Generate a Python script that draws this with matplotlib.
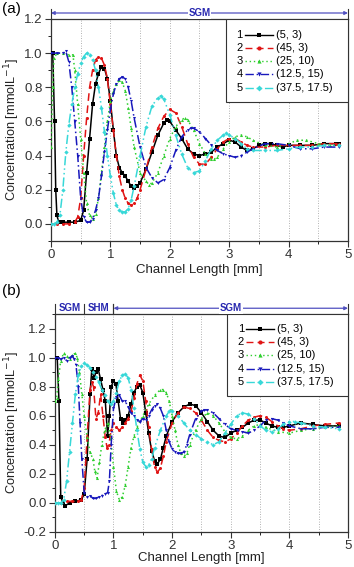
import matplotlib
matplotlib.use('Agg')
import matplotlib.pyplot as plt
from matplotlib.ticker import MultipleLocator, FormatStrFormatter
from matplotlib.lines import Line2D
from matplotlib.patches import Rectangle

plt.rcParams['font.family'] = ['Liberation Sans', 'DejaVu Sans']

# legend text and series styling
numbers = ['1', '2', '3', '4', '5']
labels = ['(5, 3)', '(45, 3)', '(25, 10)', '(12.5, 15)', '(37.5, 17.5)']
colors = ['#000000', '#e01515', '#2fcf2f', '#1818bc', '#38d8d8']
markers = ['s', 'o', '^', 'v', 'D']
styles = ['-', (0, (5, 3)), (0, (1, 2)), (0, (6, 2, 1, 2)), (0, (6, 2, 1, 2, 1, 2))]

# ---- panel (a): SGM only ----
a1_x = [0, 0.03, 0.06, 0.08, 0.1, 0.13, 0.2, 0.3, 0.4, 0.5, 0.55, 0.6, 0.65, 0.7, 0.75, 0.8, 0.85, 0.9, 0.95, 1.0,
        1.05, 1.1, 1.15, 1.2, 1.25, 1.3, 1.35, 1.4, 1.45, 1.5, 1.6, 1.7, 1.8, 1.9, 1.95, 2.0, 2.1, 2.2, 2.3, 2.4,
        2.5, 2.6, 2.7, 2.8, 2.9, 3.0, 3.1, 3.2, 3.3, 3.4, 3.5, 3.6, 3.7, 3.8, 3.9, 4.0, 4.2, 4.4, 4.6, 4.8, 4.85]
a1_y = [1.0, 1.0, 0.6, 0.2, 0.05, 0.01, 0.01, 0.01, 0.01, 0.02, 0.08, 0.3, 0.5, 0.7, 0.82, 0.88, 0.92, 0.91, 0.85, 0.72,
        0.55, 0.4, 0.33, 0.3, 0.28, 0.25, 0.22, 0.21, 0.22, 0.24, 0.32, 0.42, 0.52, 0.59, 0.61, 0.6, 0.55, 0.5, 0.44, 0.41,
        0.4, 0.41, 0.42, 0.45, 0.47, 0.49, 0.48, 0.45, 0.43, 0.44, 0.46, 0.47, 0.47, 0.46, 0.45, 0.46, 0.46, 0.46, 0.47, 0.47, 0.47]

a2_x = [0, 0.1, 0.2, 0.3, 0.4, 0.45, 0.5, 0.55, 0.6, 0.65, 0.7, 0.75, 0.8, 0.85, 0.9, 0.95, 1.0, 1.05, 1.1, 1.15,
        1.2, 1.25, 1.3, 1.35, 1.4, 1.45, 1.5, 1.6, 1.7, 1.8, 1.9, 2.0, 2.1, 2.2, 2.3, 2.4, 2.5, 2.6, 2.7, 2.8,
        2.9, 3.0, 3.1, 3.2, 3.3, 3.4, 3.6, 3.8, 4.0, 4.2, 4.4, 4.6, 4.8, 4.85]
a2_y = [0.0, 0.0, 0.0, 0.0, 0.01, 0.04, 0.15, 0.4, 0.62, 0.8, 0.9, 0.96, 0.98, 0.97, 0.93, 0.85, 0.7, 0.55, 0.4, 0.28,
        0.2, 0.15, 0.12, 0.11, 0.12, 0.15, 0.2, 0.32, 0.45, 0.56, 0.63, 0.67, 0.65, 0.57, 0.47, 0.39, 0.35, 0.35, 0.39, 0.44,
        0.48, 0.5, 0.5, 0.48, 0.46, 0.45, 0.45, 0.46, 0.46, 0.46, 0.46, 0.47, 0.47, 0.47]

a3_x = [0, 0.03, 0.05, 0.1, 0.2, 0.3, 0.37, 0.4, 0.45, 0.5, 0.55, 0.6, 0.65, 0.7, 0.75, 0.8, 0.85, 0.9, 0.95, 1.0,
        1.05, 1.1, 1.15, 1.2, 1.25, 1.3, 1.35, 1.4, 1.5, 1.6, 1.65, 1.7, 1.8, 1.9, 2.0, 2.1, 2.2, 2.25, 2.3, 2.4,
        2.5, 2.6, 2.7, 2.75, 2.8, 2.9, 3.0, 3.1, 3.2, 3.3, 3.4, 3.6, 3.8, 4.0, 4.15, 4.3, 4.5, 4.7, 4.85]
a3_y = [0.45, 0.8, 0.97, 1.0, 1.0, 0.99, 0.99, 0.9, 0.7, 0.5, 0.3, 0.12, 0.05, 0.03, 0.06, 0.15, 0.3, 0.45, 0.6, 0.72,
        0.78, 0.82, 0.84, 0.83, 0.78, 0.68, 0.56, 0.45, 0.3, 0.25, 0.23, 0.24, 0.3, 0.4, 0.5, 0.57, 0.61, 0.62, 0.61, 0.55,
        0.47, 0.41, 0.38, 0.38, 0.39, 0.44, 0.48, 0.51, 0.52, 0.51, 0.49, 0.46, 0.45, 0.47, 0.49, 0.49, 0.47, 0.46, 0.46]

a4_x = [0, 0.1, 0.2, 0.25, 0.3, 0.35, 0.4, 0.45, 0.5, 0.55, 0.6, 0.65, 0.7, 0.75, 0.8, 0.85, 0.9, 0.95, 1.0, 1.05,
        1.1, 1.15, 1.2, 1.25, 1.3, 1.35, 1.4, 1.5, 1.6, 1.7, 1.8, 1.9, 2.0, 2.1, 2.2, 2.3, 2.35, 2.4, 2.5, 2.6,
        2.7, 2.8, 2.9, 3.0, 3.1, 3.2, 3.3, 3.4, 3.6, 3.8, 4.0, 4.2, 4.4, 4.6, 4.85]
a4_y = [1.0, 1.0, 1.0, 1.01, 0.95, 0.8, 0.6, 0.4, 0.15, 0.04, 0.01, 0.01, 0.03, 0.08, 0.15, 0.28, 0.42, 0.55, 0.67, 0.76,
        0.82, 0.85, 0.86, 0.85, 0.8, 0.72, 0.62, 0.45, 0.33, 0.27, 0.24, 0.26, 0.33, 0.43, 0.51, 0.55, 0.56, 0.56, 0.54, 0.5,
        0.46, 0.43, 0.41, 0.4, 0.39, 0.4, 0.42, 0.44, 0.47, 0.47, 0.46, 0.44, 0.44, 0.45, 0.45]

a5_x = [0, 0.05, 0.1, 0.15, 0.2, 0.25, 0.3, 0.35, 0.4, 0.45, 0.5, 0.55, 0.6, 0.65, 0.7, 0.75, 0.8, 0.85, 0.9, 0.95,
        1.0, 1.05, 1.1, 1.15, 1.2, 1.25, 1.3, 1.35, 1.4, 1.5, 1.6, 1.7, 1.8, 1.85, 1.9, 2.0, 2.1, 2.2, 2.3, 2.4,
        2.5, 2.6, 2.7, 2.8, 2.9, 2.95, 3.0, 3.1, 3.2, 3.3, 3.4, 3.6, 3.8, 4.0, 4.2, 4.4, 4.6, 4.85]
a5_y = [0.0, 0.0, 0.01, 0.05, 0.2, 0.42, 0.58, 0.7, 0.8, 0.88, 0.94, 0.98, 1.0, 0.99, 0.96, 0.9, 0.8, 0.68, 0.54, 0.4,
        0.28, 0.18, 0.11, 0.08, 0.07, 0.07, 0.09, 0.14, 0.22, 0.4, 0.57, 0.69, 0.74, 0.75, 0.73, 0.64, 0.52, 0.41, 0.33, 0.3,
        0.31, 0.37, 0.44, 0.49, 0.52, 0.53, 0.52, 0.5, 0.47, 0.44, 0.43, 0.43, 0.43, 0.44, 0.45, 0.45, 0.46, 0.46]

# ---- panel (b): SGM | SHM | SGM ----
b1_x = [0, 0.04, 0.07, 0.1, 0.14, 0.18, 0.25, 0.35, 0.45, 0.5, 0.55, 0.6, 0.63, 0.67, 0.7, 0.74, 0.78, 0.82, 0.86, 0.9,
        0.93, 0.96, 1.0, 1.04, 1.08, 1.12, 1.16, 1.2, 1.25, 1.3, 1.35, 1.4, 1.45, 1.5, 1.55, 1.6, 1.65, 1.7, 1.75, 1.8,
        1.85, 1.9, 2.0, 2.1, 2.2, 2.3, 2.4, 2.5, 2.6, 2.7, 2.8, 2.9, 3.0, 3.1, 3.2, 3.3, 3.4, 3.5, 3.6, 3.7,
        3.8, 3.9, 4.0, 4.2, 4.4, 4.6, 4.85]
b1_y = [1.0, 1.0, 0.7, 0.04, 0.0, -0.02, 0.0, 0.01, 0.02, 0.06, 0.3, 0.75, 0.92, 0.86, 0.9, 0.92, 0.85, 0.78, 0.7, 0.46,
        0.6, 0.8, 0.84, 0.82, 0.7, 0.58, 0.55, 0.57, 0.6, 0.68, 0.76, 0.8, 0.81, 0.76, 0.62, 0.48, 0.36, 0.29, 0.27, 0.3,
        0.38, 0.46, 0.56, 0.62, 0.66, 0.68, 0.67, 0.62, 0.56, 0.5, 0.46, 0.45, 0.48, 0.5, 0.52, 0.55, 0.57, 0.57, 0.55, 0.53,
        0.52, 0.52, 0.53, 0.55, 0.54, 0.53, 0.53]

b2_x = [0, 0.1, 0.2, 0.3, 0.4, 0.45, 0.5, 0.55, 0.6, 0.63, 0.66, 0.7, 0.74, 0.78, 0.82, 0.86, 0.89, 0.92, 0.96, 1.0,
        1.05, 1.1, 1.15, 1.2, 1.25, 1.3, 1.35, 1.4, 1.45, 1.5, 1.55, 1.6, 1.65, 1.7, 1.75, 1.8, 1.85, 1.9, 2.0, 2.1,
        2.2, 2.3, 2.4, 2.5, 2.6, 2.7, 2.8, 2.9, 3.0, 3.1, 3.2, 3.3, 3.4, 3.5, 3.6, 3.7, 3.8, 3.9, 4.0, 4.2,
        4.4, 4.6, 4.85]
b2_y = [0.0, 0.0, 0.01, 0.01, 0.01, 0.02, 0.1, 0.45, 0.78, 0.83, 0.8, 0.58, 0.62, 0.75, 0.6, 0.45, 0.38, 0.4, 0.5, 0.55,
        0.52, 0.5, 0.52, 0.55, 0.58, 0.63, 0.72, 0.82, 0.88, 0.84, 0.7, 0.52, 0.37, 0.25, 0.21, 0.24, 0.32, 0.42, 0.55, 0.62,
        0.66, 0.65, 0.62, 0.57, 0.5, 0.45, 0.43, 0.42, 0.44, 0.48, 0.53, 0.57, 0.59, 0.6, 0.59, 0.56, 0.53, 0.51, 0.5, 0.51,
        0.53, 0.54, 0.55]

b3_x = [0, 0.03, 0.06, 0.1, 0.15, 0.2, 0.25, 0.3, 0.35, 0.38, 0.42, 0.46, 0.5, 0.55, 0.6, 0.65, 0.68, 0.72, 0.76, 0.8,
        0.85, 0.9, 0.95, 1.0, 1.05, 1.1, 1.15, 1.2, 1.25, 1.3, 1.35, 1.4, 1.5, 1.6, 1.7, 1.8, 1.85, 1.9, 1.95, 2.0,
        2.05, 2.1, 2.15, 2.2, 2.25, 2.3, 2.4, 2.5, 2.6, 2.7, 2.8, 2.9, 3.0, 3.1, 3.2, 3.3, 3.4, 3.5, 3.6, 3.8,
        4.0, 4.2, 4.4, 4.6, 4.85]
b3_y = [0.7, 0.72, 0.85, 0.98, 1.03, 1.01, 0.99, 1.02, 1.03, 1.0, 0.9, 0.75, 0.6, 0.45, 0.35, 0.3, 0.22, 0.17, 0.28, 0.4,
        0.5, 0.55, 0.45, 0.25, 0.08, 0.02, 0.04, 0.12, 0.25, 0.38, 0.46, 0.52, 0.6, 0.68, 0.74, 0.78, 0.78, 0.76, 0.7, 0.6,
        0.5, 0.4, 0.34, 0.32, 0.34, 0.4, 0.5, 0.58, 0.62, 0.6, 0.55, 0.49, 0.45, 0.44, 0.46, 0.5, 0.53, 0.54, 0.52, 0.49,
        0.48, 0.5, 0.51, 0.52, 0.53]

b4_x = [0, 0.05, 0.1, 0.15, 0.2, 0.25, 0.3, 0.33, 0.36, 0.4, 0.43, 0.46, 0.5, 0.55, 0.6, 0.65, 0.7, 0.75, 0.8, 0.85,
        0.9, 0.93, 0.96, 1.0, 1.05, 1.1, 1.15, 1.2, 1.25, 1.3, 1.35, 1.4, 1.45, 1.5, 1.55, 1.6, 1.65, 1.7, 1.75, 1.8,
        1.85, 1.9, 1.95, 2.0, 2.05, 2.1, 2.15, 2.2, 2.25, 2.3, 2.4, 2.5, 2.55, 2.6, 2.7, 2.8, 2.9, 3.0, 3.1, 3.2,
        3.3, 3.4, 3.5, 3.6, 3.7, 3.8, 3.9, 4.0, 4.2, 4.4, 4.6, 4.85]
b4_y = [1.0, 1.0, 0.99, 1.0, 0.98, 1.0, 1.01, 0.99, 0.95, 0.8, 0.55, 0.3, 0.07, 0.04, 0.05, 0.03, 0.03, 0.04, 0.05, 0.06,
        0.07, 0.15, 0.4, 0.65, 0.73, 0.74, 0.7, 0.7, 0.66, 0.62, 0.6, 0.57, 0.56, 0.58, 0.57, 0.6, 0.64, 0.67, 0.68, 0.65,
        0.6, 0.5, 0.42, 0.37, 0.35, 0.34, 0.34, 0.35, 0.4, 0.47, 0.58, 0.63, 0.64, 0.64, 0.62, 0.58, 0.54, 0.51, 0.5, 0.49,
        0.48, 0.5, 0.53, 0.57, 0.58, 0.57, 0.55, 0.53, 0.51, 0.51, 0.52, 0.52]

b5_x = [0, 0.05, 0.1, 0.15, 0.2, 0.25, 0.3, 0.35, 0.4, 0.45, 0.5, 0.55, 0.6, 0.65, 0.7, 0.75, 0.8, 0.85, 0.9, 0.95,
        1.0, 1.05, 1.1, 1.15, 1.2, 1.25, 1.3, 1.35, 1.4, 1.45, 1.5, 1.55, 1.6, 1.65, 1.7, 1.8, 1.9, 1.95, 2.0, 2.1,
        2.2, 2.3, 2.4, 2.5, 2.6, 2.7, 2.8, 2.9, 3.0, 3.1, 3.2, 3.3, 3.4, 3.5, 3.6, 3.7, 3.8, 3.9, 4.0, 4.1,
        4.2, 4.4, 4.6, 4.85]
b5_y = [0.0, 0.0, 0.0, 0.02, 0.15, 0.35, 0.55, 0.75, 0.88, 0.94, 0.96, 0.95, 0.93, 0.9, 0.87, 0.83, 0.78, 0.74, 0.7, 0.68,
        0.7, 0.76, 0.84, 0.88, 0.89, 0.86, 0.78, 0.65, 0.5, 0.37, 0.28, 0.25, 0.26, 0.3, 0.38, 0.5, 0.6, 0.63, 0.63, 0.6,
        0.55, 0.5, 0.47, 0.44, 0.42, 0.4, 0.42, 0.48, 0.54, 0.6, 0.62, 0.61, 0.58, 0.53, 0.5, 0.49, 0.51, 0.54, 0.56, 0.56,
        0.55, 0.53, 0.52, 0.51]

panel_a = [(a1_x, a1_y), (a2_x, a2_y), (a3_x, a3_y), (a4_x, a4_y), (a5_x, a5_y)]
panel_b = [(b1_x, b1_y), (b2_x, b2_y), (b3_x, b3_y), (b4_x, b4_y), (b5_x, b5_y)]

band_color = '#5050c0'
text_color = '#2828b0'


def style_axes(ax, ymin, ymax, xpad):
    ax.set_xlim(0, 5)
    ax.set_ylim(ymin, ymax)
    ax.xaxis.set_major_locator(MultipleLocator(1))
    ax.xaxis.set_minor_locator(MultipleLocator(0.5))
    ax.yaxis.set_major_locator(MultipleLocator(0.2))
    ax.yaxis.set_minor_locator(MultipleLocator(0.1))
    ax.yaxis.set_major_formatter(FormatStrFormatter('%.1f'))
    ax.tick_params(which='major', direction='out', length=4, width=0.8, labelsize=9.5,
                   colors='#333333', pad=2)
    ax.tick_params(which='minor', direction='out', length=2, width=0.6)
    ax.tick_params(top=False, right=False)
    for sp in ax.spines.values():
        sp.set_linewidth(0.9)
        sp.set_color('#333333')
    for xv in [0.5, 1, 1.5, 2, 2.5, 3, 3.5, 4, 4.5]:
        ax.axvline(xv, color='#999999', lw=0.6, ls=(0, (1, 2)), zorder=0)
    ax.set_xlabel('Channel Length [mm]', fontsize=9.5, labelpad=xpad, color='#222222')
    ax.set_ylabel('Concentration [mmolL$^{-1}$]', fontsize=9.2, labelpad=1.5, color='#222222')


def plot_series(ax, series):
    for (xs, ys), c, m, s in zip(series, colors, markers, styles):
        ax.plot(xs, ys, color=c, ls=s, lw=1.1, marker=m, ms=2.2, mew=0, zorder=3)


def draw_legend(ax):
    ax.add_patch(Rectangle((0.588, 0.625), 0.412, 0.375, transform=ax.transAxes,
                           facecolor='white', edgecolor='#333333', lw=0.8, zorder=5))
    for i in range(5):
        yy = 0.93 - i * 0.06
        ax.text(0.635, yy, numbers[i], transform=ax.transAxes, fontsize=8,
                ha='center', va='center', zorder=6)
        ax.add_line(Line2D([0.652, 0.746], [yy, yy], transform=ax.transAxes,
                           color=colors[i], ls=styles[i], lw=1.0, zorder=6))
        ax.add_line(Line2D([0.699], [yy], transform=ax.transAxes, color=colors[i],
                           marker=markers[i], ms=3, mew=0, ls='none', zorder=6))
        ax.text(0.758, yy, labels[i], transform=ax.transAxes, fontsize=8,
                ha='left', va='center', zorder=6)


def band_arrow(ax, x0, x1, text, xt, ylev, ytop):
    tr = ax.get_xaxis_transform()
    ax.annotate('', xy=(x0, ylev), xytext=(x1, ylev), xycoords=tr, textcoords=tr,
                arrowprops=dict(arrowstyle='<|-|>', color=band_color, lw=0.9,
                                mutation_scale=5, shrinkA=0, shrinkB=0), annotation_clip=False)
    ax.text(xt, ylev, text, transform=tr, ha='center', va='center', fontsize=7,
            fontweight='bold', color=text_color,
            bbox=dict(facecolor='white', edgecolor='none', pad=0.6), clip_on=False)
    for xv in [x0, x1]:
        ax.plot([xv, xv], [1.0, ytop], transform=tr, color='#333333', lw=0.8, clip_on=False)


fig = plt.figure(figsize=(3.54, 5.67), dpi=100)

# (a)
ax1 = fig.add_axes([0.144, 0.575, 0.839, 0.3915])
style_axes(ax1, -0.1, 1.2, 2)
plot_series(ax1, panel_a)
draw_legend(ax1)
band_arrow(ax1, 0, 5, 'SGM', 2.5, 1.027, 1.045)
fig.text(0.005, 0.997, '(a)', fontsize=11, ha='left', va='top')

# (b)
ax2 = fig.add_axes([0.155, 0.062, 0.828, 0.384])
style_axes(ax2, -0.2, 1.3, 0)
plot_series(ax2, panel_b)
draw_legend(ax2)
tr2 = ax2.get_xaxis_transform()
for xv in [0, 0.5, 1.0]:
    ax2.plot([xv, xv], [1.0, 1.046], transform=tr2, color='#333333', lw=0.8, clip_on=False)
ax2.text(0.25, 1.027, 'SGM', transform=tr2, ha='center', va='center', fontsize=7,
         fontweight='bold', color=text_color)
ax2.text(0.75, 1.027, 'SHM', transform=tr2, ha='center', va='center', fontsize=7,
         fontweight='bold', color=text_color)
band_arrow(ax2, 1.0, 5, 'SGM', 3.0, 1.027, 1.046)
fig.text(0.005, 0.5, '(b)', fontsize=11, ha='left', va='top')

fig.savefig('out.png', dpi=100)
